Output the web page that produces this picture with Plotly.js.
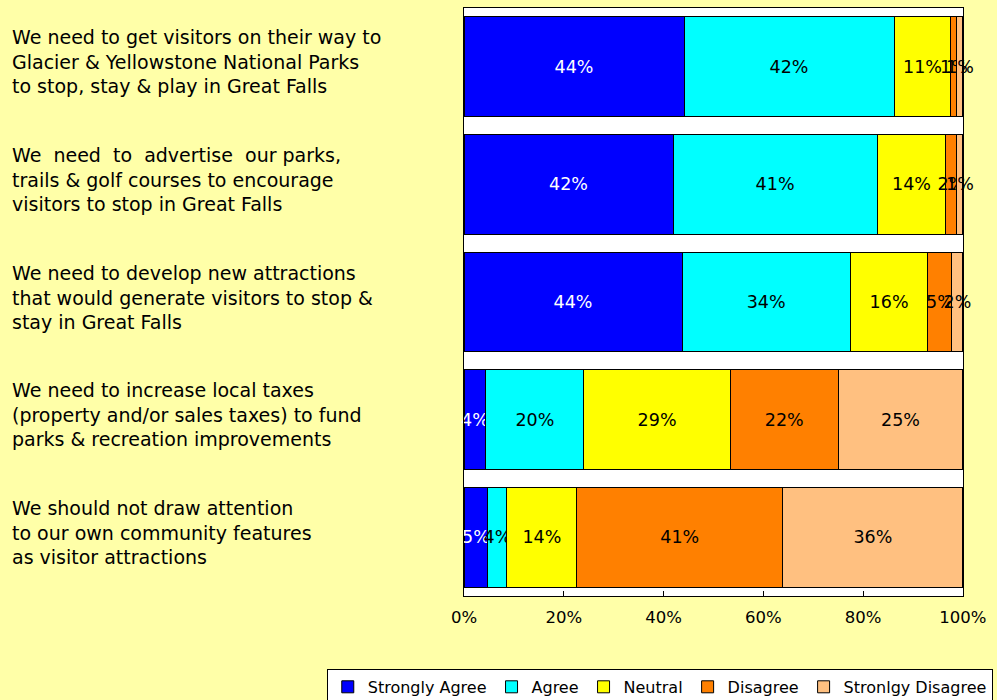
<!DOCTYPE html>
<html>
<head>
<meta charset="utf-8">
<script src="https://cdn.plot.ly/plotly-3.0.1.min.js"></script>
<style>html,body{margin:0;padding:0;background:#FFFFA8;}</style>
</head>
<body>
<div id="chart" style="width:997px;height:700px;"></div>
<script>
const categories = [
  "We need to get visitors on their way to<br>Glacier & Yellowstone National Parks<br>to stop, stay & play in Great Falls",
  "We  need  to  advertise  our parks,<br>trails & golf courses to encourage<br>visitors to stop in Great Falls",
  "We need to develop new attractions<br>that would generate visitors to stop &<br>stay in Great Falls",
  "We need to increase local taxes<br>(property and/or sales taxes) to fund<br>parks & recreation improvements",
  "We should not draw attention<br>to our own community features<br>as visitor attractions"
];
const seriesNames = ["Strongly Agree", "Agree", "Neutral", "Disagree", "Stronlgy Disagree"];
const stronglyAgree = [44.1, 41.9, 43.7, 4.4, 4.8];
const agree = [42.1, 40.9, 33.7, 19.6, 3.8];
const neutral = [11.4, 13.8, 15.6, 29.4, 14.0];
const disagree = [1.2, 2.2, 4.8, 21.6, 41.3];
const stronglyDisagree = [1.2, 1.2, 2.2, 25.0, 36.1];
const xTickVals = [0, 20, 40, 60, 80, 100];
const xTickText = ["0%", "20%", "40%", "60%", "80%", "100%"];

const FONT = "DejaVu Sans, Verdana, sans-serif";
const seriesValues = [stronglyAgree, agree, neutral, disagree, stronglyDisagree];
const colors = ["#0000FF", "#00FFFF", "#FFFF00", "#FF8000", "#FFC080"];
const textColors = ["#FFFFFF", "#000000", "#000000", "#000000", "#000000"];

const traces = seriesValues.map((vals, i) => ({
  type: "bar",
  orientation: "h",
  name: seriesNames[i],
  x: vals,
  y: categories,
  marker: { color: colors[i], line: { color: "#000000", width: 1 } },
  texttemplate: "%{x:.0f}%",
  textposition: "inside",
  insidetextanchor: "middle",
  constraintext: "none",
  textangle: 0,
  textfont: { family: FONT, size: 17.5, color: textColors[i] },
  hoverinfo: "skip",
  cliponaxis: false
}));

const annotations = categories.map(c => ({
  xref: "paper", yref: "y",
  x: -0.91, y: c,
  xanchor: "left", yanchor: "middle",
  yshift: 5,
  align: "left",
  text: c,
  showarrow: false,
  font: { family: FONT, size: 19, color: "#000000" }
}));

const layout = {
  width: 997, height: 700,
  paper_bgcolor: "#FFFFA8",
  plot_bgcolor: "#FFFFFF",
  barmode: "stack",
  bargap: 0.15,
  margin: { l: 464, r: 34, t: 8, b: 104, pad: 0, autoexpand: false },
  showlegend: true,
  legend: {
    orientation: "h",
    x: -0.275, xanchor: "left",
    y: -0.124, yanchor: "top",
    bgcolor: "#FFFFFF",
    bordercolor: "#000000",
    borderwidth: 1,
    font: { family: FONT, size: 16, color: "#000000" },
    traceorder: "normal",
    itemwidth: 30
  },
  xaxis: {
    range: [0, 100.02],
    tickvals: xTickVals,
    ticktext: xTickText,
    ticks: "inside",
    ticklen: 5,
    tickcolor: "#000000",
    ticklabelstandoff: 6,
    showgrid: false,
    zeroline: false,
    showline: true,
    linecolor: "#000000",
    linewidth: 1,
    mirror: true,
    tickfont: { family: FONT, size: 16.5, color: "#000000" },
    fixedrange: true
  },
  yaxis: {
    autorange: "reversed",
    showticklabels: false,
    ticks: "",
    showgrid: false,
    zeroline: false,
    showline: true,
    linecolor: "#000000",
    linewidth: 1,
    mirror: true,
    fixedrange: true
  },
  annotations: annotations
};

Plotly.newPlot("chart", traces, layout, { displayModeBar: false, staticPlot: true });
</script>
</body>
</html>
